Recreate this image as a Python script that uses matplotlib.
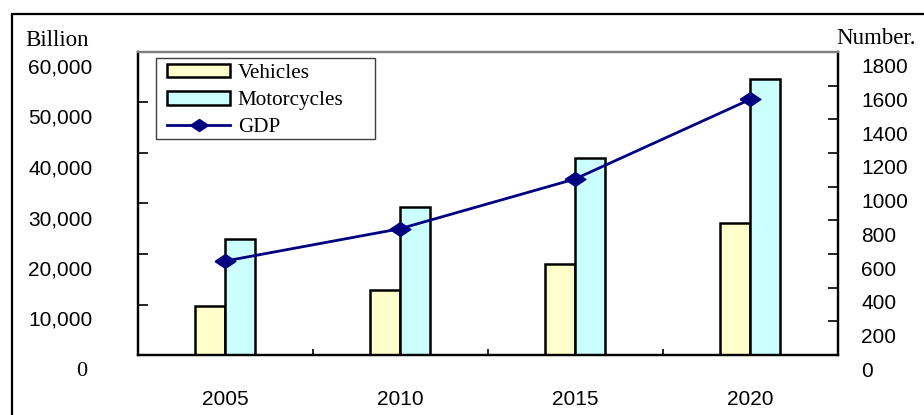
import numpy as np
import matplotlib.pyplot as plt
from matplotlib.patches import Patch, Rectangle
from matplotlib.lines import Line2D
from matplotlib.transforms import ScaledTranslation

# data
years = ['2005', '2010', '2015', '2020']
vehicles = [290, 385, 540, 785]          # number (right axis)
motorcycles = [690, 880, 1170, 1640]     # number (right axis)
gdp = [18600, 25000, 34850, 50600]       # billion (left axis)

left_ticks = [0, 10000, 20000, 30000, 40000, 50000, 60000]
left_labels = ['0', '10,000', '20,000', '30,000', '40,000', '50,000', '60,000']
right_ticks = list(range(0, 2000, 200))

sans = 'Liberation Sans'
serif = 'Liberation Serif'

fig = plt.figure(figsize=(9.24, 4.15), dpi=100)
W, H = 924, 415

# outer frame
fig.patches.append(Rectangle((12 / W, -0.1), 1.2, 1 - 14 / H + 0.1, transform=fig.transFigure,
                             fill=False, edgecolor='black', linewidth=1.6))

ax = fig.add_axes([137.5 / W, (H - 355) / H, 700 / W, 303 / H])
ax2 = ax.twinx()
ax.set_zorder(ax2.get_zorder() + 1)
ax.patch.set_visible(False)

x = np.arange(len(years))
bw = 30 / 175
ax2.bar(x - bw / 2, vehicles, bw, color='#FFFFCC', edgecolor='black', linewidth=1.8)
ax2.bar(x + bw / 2, motorcycles, bw, color='#CCFFFF', edgecolor='black', linewidth=1.8)

diamond = [(-1.5, 0), (0, 1), (1.5, 0), (0, -1), (-1.5, 0)]
ax.plot(x, gdp, color='#000080', linewidth=2, marker=diamond, markersize=15)

ax.set_xlim(-0.5, 3.5)
ax.set_ylim(0, 60000)
ax2.set_ylim(0, 1800)

ax.set_yticks(left_ticks, left_labels)
ax2.set_yticks(right_ticks, [str(t) for t in right_ticks])
ax.tick_params(axis='y', direction='in', length=7, width=1.2, pad=32.5, labelsize=15)
ax2.tick_params(axis='y', direction='in', length=7, width=1.2, pad=17, labelsize=15)
ax2.tick_params(axis='y', which='both', left=False)

ax.set_xticks(x, years)
ax.set_xticks([0.5, 1.5, 2.5], minor=True)
ax.tick_params(axis='x', which='major', length=0, pad=25, labelsize=15)
ax.tick_params(axis='x', which='minor', direction='in', length=4, width=1.2)
ax2.tick_params(axis='x', which='both', bottom=False, labelbottom=False)

shift = ScaledTranslation(0, -14 / 100, fig.dpi_scale_trans)
for lab in ax.get_yticklabels() + ax2.get_yticklabels() + ax.get_xticklabels():
    lab.set_fontfamily(sans)
for lab in ax.get_yticklabels() + ax2.get_yticklabels():
    lab.set_transform(lab.get_transform() + shift)
zero = ax.get_yticklabels()[0]
zero.set_fontfamily(serif)
zero.set_fontsize(16)
zero.set_transform(zero.get_transform() + ScaledTranslation(-5 / 100, 0, fig.dpi_scale_trans))

for a in (ax, ax2):
    for s in ('left', 'right', 'bottom'):
        a.spines[s].set_linewidth(1.6)
        a.spines[s].set_color('black')
    a.spines['top'].set_color('#808080')
    a.spines['top'].set_linewidth(1.6)

fig.text(57 / W, 1 - 40 / H, 'Billion', ha='center', va='center', fontsize=16.5, family=serif)
fig.text(876 / W, 1 - 38 / H, 'Number.', ha='center', va='center', fontsize=16.5, family=serif)

# legend box drawn separately so it can be wider than its entries
ax.add_patch(Rectangle((155.5 / W, 1 - 139 / H), 219.5 / W, 80.5 / H,
                       transform=fig.transFigure, facecolor='white', clip_on=False,
                       edgecolor='#404040', linewidth=1.0, zorder=4.5))
handles = [
    Patch(facecolor='#FFFFCC', edgecolor='black', linewidth=1.8),
    Patch(facecolor='#CCFFFF', edgecolor='black', linewidth=1.8),
    Line2D([], [], color='#000080', linewidth=2, marker=diamond, markersize=13),
]
leg = ax.legend(handles, ['Vehicles', 'Motorcycles', 'GDP'], loc='upper left',
                bbox_to_anchor=(167 / W, 1 - 64 / H), bbox_transform=fig.transFigure,
                borderaxespad=0, frameon=False,
                prop={'family': serif, 'size': 15.2}, handlelength=3.0, handleheight=0.6,
                handletextpad=0.35, labelspacing=0.38, borderpad=0)

fig.savefig('out.png', dpi=100)
